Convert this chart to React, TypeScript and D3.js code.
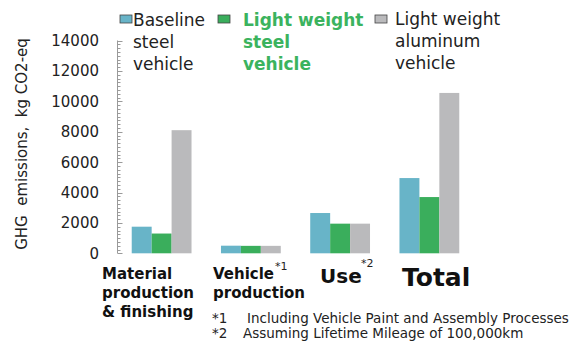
import React from "react";
import * as d3 from "d3";

// Life-cycle GHG emissions by stage, kg CO2-eq
const stages = ["Material production & finishing", "Vehicle production", "Use", "Total"];
const seriesNames = ["Baseline steel vehicle", "Light weight steel vehicle", "Light weight aluminum vehicle"];
const baselineSteel = [1750, 500, 2650, 4950];
const lightSteel = [1300, 490, 1950, 3700];
const lightAluminum = [8100, 490, 1950, 10550];
const yTicks = [0, 2000, 4000, 6000, 8000, 10000, 12000, 14000];

const colors = ["#68b4c8", "#3aae5c", "#bababc"];
const FONT = "'DejaVu Sans', Verdana, sans-serif";

export default function App() {
  const W = 576;
  const H = 347;
  const series = [baselineSteel, lightSteel, lightAluminum];

  const y = d3.scaleLinear().domain([0, 14000]).range([253.3, 40.5]);
  const x0 = d3.scaleBand<string>().domain(stages).range([117, 474]).paddingInner(0.33).paddingOuter(0.165);
  const x1 = d3.scaleBand<number>().domain([0, 1, 2]).range([0, x0.bandwidth()]);

  const minor = d3.range(0, 14001, 250);
  const axisX = 117.5;

  return (
    <svg width={W} height={H} style={{ position: "absolute", left: 0, top: 0, background: "#fff" }} fontFamily={FONT}>
      {/* y axis */}
      <line x1={axisX} x2={axisX} y1={y(14000)} y2={y(0)} stroke="#9a9a9a" strokeWidth={1} />
      {minor.map((v) => (
        <line key={v} x1={axisX} x2={axisX + (v % 2000 === 0 ? 5 : 3)} y1={Math.round(y(v)) + 0.5} y2={Math.round(y(v)) + 0.5} stroke="#9a9a9a" strokeWidth={1} />
      ))}
      {yTicks.map((v) => (
        <text key={v} x={99} y={y(v)} dy="0.36em" textAnchor="end" fontSize={15} fill="#222">
          {v}
        </text>
      ))}
      <text transform={`translate(27,144) rotate(-90)`} textAnchor="middle" fontSize={15} fill="#222" style={{ whiteSpace: "pre" }}>
        {"GHG  emissions,  kg CO2-eq"}
      </text>

      {/* bars */}
      {stages.map((s, i) => (
        <g key={s} transform={`translate(${x0(s)},0)`}>
          {series.map((vals, k) => (
            <rect key={k} x={x1(k)} y={y(vals[i])} width={x1.bandwidth()} height={y(0) - y(vals[i])} fill={colors[k]} />
          ))}
        </g>
      ))}

      {/* legend */}
      <rect x={120} y={15} width={12} height={8} fill={colors[0]} stroke="#444" strokeWidth={0.8} />
      <text fontSize={17} fill="#222">
        <tspan x={133} y={26}>Baseline</tspan>
        <tspan x={133} y={48}>steel</tspan>
        <tspan x={133} y={70}>vehicle</tspan>
      </text>
      <rect x={218} y={15} width={12} height={8} fill={colors[1]} stroke="#444" strokeWidth={0.8} />
      <text fontSize={17} fontWeight="bold" fill="#3bb35e">
        <tspan x={243} y={26}>Light weight</tspan>
        <tspan x={243} y={48}>steel</tspan>
        <tspan x={243} y={70}>vehicle</tspan>
      </text>
      <rect x={375} y={15} width={12} height={8} fill={colors[2]} stroke="#444" strokeWidth={0.8} />
      <text fontSize={17} fill="#222">
        <tspan x={395} y={25}>Light weight</tspan>
        <tspan x={395} y={47}>aluminum</tspan>
        <tspan x={395} y={69}>vehicle</tspan>
      </text>

      {/* category labels */}
      <text fontSize={15} fontWeight="bold" fill="#111">
        <tspan x={102} y={279}>Material</tspan>
        <tspan x={102} y={298}>production</tspan>
        <tspan x={102} y={317}>&amp; finishing</tspan>
      </text>
      <text fontSize={15} fontWeight="bold" fill="#111">
        <tspan x={213} y={279}>Vehicle</tspan>
        <tspan x={213} y={298}>production</tspan>
      </text>
      <text x={275} y={270} fontSize={11} fill="#222">*1</text>
      <text x={320} y={283} fontSize={20} fontWeight="bold" fill="#111">Use</text>
      <text x={361} y={267} fontSize={11} fill="#222">*2</text>
      <text x={402} y={286} fontSize={25} fontWeight="bold" fill="#111">Total</text>

      {/* footnotes */}
      <text fontSize={13.5} fill="#222">
        <tspan x={212} y={323}>*1</tspan>
        <tspan x={247} y={323}>Including Vehicle Paint and Assembly Processes</tspan>
        <tspan x={212} y={338}>*2</tspan>
        <tspan x={243} y={338}>Assuming Lifetime Mileage of 100,000km</tspan>
      </text>
      <title>{seriesNames.join(", ")}</title>
    </svg>
  );
}
